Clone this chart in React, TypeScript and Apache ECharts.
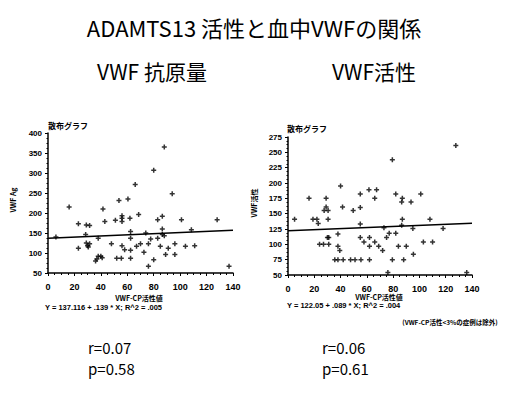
import React, { useEffect, useRef } from "react";
import * as echarts from "echarts";

const title = "ADAMTS13 活性と血中VWFの関係";
const leftTitle = "VWF 抗原量";
const rightTitle = "VWF活性";
const plotLabel = "散布グラフ";
const xName = "VWF-CP活性値";
const leftYName = "VWF Ag";
const rightYName = "VWF活性";
const leftEq = "Y = 137.116 + .139 * X; R^2 = .005";
const rightEq = "Y = 122.05 + .089 * X; R^2 = .004";
const footnote = "(VWF-CP活性<3%の症例は除外)";
const leftStats = ["r=0.07", "p=0.58"];
const rightStats = ["r=0.06", "p=0.61"];

const leftPoints: number[][] = [
  [6, 140], [16, 215], [23, 173], [23, 112], [28.5, 146], [29, 170], [31.5, 169], [29, 125],
  [30, 118], [31.5, 123], [30.5, 115], [36, 80], [37, 85], [38, 92], [40, 92], [41, 88],
  [38, 137], [41.6, 210], [43, 179], [48, 123], [51, 182], [52, 87], [53.7, 231], [55.5, 87],
  [56, 193], [56, 187], [56, 179], [56, 118], [58, 108], [60.5, 235], [62, 187], [62.5, 154],
  [62.5, 137], [62.5, 107], [62.5, 87], [66, 271], [67, 117], [68.6, 196], [70, 123],
  [72.6, 102], [74, 150], [76, 123], [76, 67], [77.7, 135], [80, 307], [80, 83], [83, 183],
  [83, 137], [85, 117], [86.5, 192], [86.5, 160], [86.5, 146], [88, 143], [88, 365], [89, 96],
  [91, 112], [94, 248], [96, 123], [96, 96], [101, 183], [104, 117], [108.5, 158], [111, 118],
  [128, 183], [137, 67],
];

const rightPoints: number[][] = [
  [5, 141], [16, 175], [19, 141], [22, 141], [23, 134], [24, 100], [27, 100], [31, 100],
  [27.5, 155], [29, 161], [29, 175], [30.5, 155], [30, 111], [31, 111], [30.5, 141],
  [35.6, 75], [38, 75], [38, 117], [38, 97], [39.4, 90], [40, 195], [41.5, 161], [42, 75],
  [47.6, 75], [49.6, 155], [51, 75], [55, 182], [55, 160], [55, 133], [55, 111], [55.5, 75],
  [57.8, 104], [61.6, 189], [62, 111], [62, 97], [62, 75], [66, 175], [66, 104], [67.4, 189],
  [69, 97], [72, 90], [73, 127], [75, 111], [76, 54], [77, 118], [79.4, 238], [79.4, 75],
  [82, 182], [82, 118], [84, 97], [86.5, 169], [87, 175], [87, 141], [86.5, 131], [88, 75],
  [90, 97], [93.6, 169], [95, 126], [95.4, 84], [101, 182], [103, 104], [108, 141],
  [110, 104], [118, 126], [127.7, 261], [136, 54],
];

const leftFit: number[][] = [[0, 137.1], [140, 156.6]];
const rightFit: number[][] = [[0, 122.05], [140, 134.5]];

const xTicks = { min: 0, max: 140, interval: 20 };
const leftYTicks = { min: 50, max: 400, interval: 50 };
const rightYTicks = { min: 50, max: 275, interval: 25 };

const plus = "path://M3.5,0H6.5V3.5H10V6.5H6.5V10H3.5V6.5H0V3.5H3.5Z";
const axisFont = "Liberation Sans";
const jp = "Noto Sans CJK JP";

function xAxis(gridIndex: number) {
  return {
    type: "value",
    gridIndex,
    ...xTicks,
    axisLine: { show: true, onZero: false, lineStyle: { color: "#000", width: 1.5 } },
    axisTick: { show: true, length: 3, lineStyle: { color: "#000" } },
    minorTick: { show: true, splitNumber: 4, length: 2, lineStyle: { color: "#000" } },
    splitLine: { show: false },
    axisLabel: { color: "#000", fontSize: 9, fontWeight: "bold", fontFamily: axisFont, margin: 9 },
  };
}

function yAxis(gridIndex: number, t: any) {
  return {
    type: "value",
    gridIndex,
    ...t,
    axisLine: { show: true, onZero: false, lineStyle: { color: "#000", width: 1.5 } },
    axisTick: { show: true, length: 3, lineStyle: { color: "#000" } },
    minorTick: { show: true, splitNumber: 4, length: 1.5, lineStyle: { color: "#000" } },
    splitLine: { show: false },
    axisLabel: { color: "#000", fontSize: 8, fontWeight: "bold", fontFamily: axisFont, margin: 6 },
  };
}

function txt(text: string, x: number, y: number, fontSize: number, opts: any = {}) {
  return {
    type: "text",
    x,
    y,
    rotation: opts.rotation || 0,
    style: {
      text,
      fill: "#000",
      fontSize,
      fontFamily: opts.fontFamily || jp,
      fontWeight: opts.fontWeight || "normal",
      align: opts.align || "center",
      verticalAlign: "middle",
    },
  };
}

export default function App() {
  const ref = useRef<HTMLDivElement>(null);
  useEffect(() => {
    if (!ref.current) return;
    const chart = echarts.init(ref.current, undefined, { renderer: "svg" });
    chart.setOption({
      animation: false,
      backgroundColor: "#fff",
      grid: [
        { left: 48, top: 133, width: 185, height: 140 },
        { left: 288, top: 137, width: 184, height: 138 },
      ],
      xAxis: [xAxis(0), xAxis(1)],
      yAxis: [yAxis(0, leftYTicks), yAxis(1, rightYTicks)],
      series: [
        {
          type: "scatter", xAxisIndex: 0, yAxisIndex: 0, data: leftPoints,
          symbol: plus, symbolSize: 5, itemStyle: { color: "#000" },
        },
        {
          type: "line", xAxisIndex: 0, yAxisIndex: 0, data: leftFit, showSymbol: false,
          lineStyle: { color: "#000", width: 1.5 },
        },
        {
          type: "scatter", xAxisIndex: 1, yAxisIndex: 1, data: rightPoints,
          symbol: plus, symbolSize: 5, itemStyle: { color: "#000" },
        },
        {
          type: "line", xAxisIndex: 1, yAxisIndex: 1, data: rightFit, showSymbol: false,
          lineStyle: { color: "#000", width: 1.5 },
        },
      ],
      graphic: [
        txt(title, 254, 27, 22),
        txt(leftTitle, 152, 71, 21),
        txt(rightTitle, 374, 71, 21),
        txt(plotLabel, 48, 125, 8, { align: "left", fontWeight: "bold" }),
        txt(plotLabel, 287, 128, 8, { align: "left", fontWeight: "bold" }),
        txt(leftYName, 13, 200, 7, { rotation: Math.PI / 2, fontWeight: "bold" }),
        txt(rightYName, 254, 203, 7, { rotation: Math.PI / 2, fontWeight: "bold" }),
        txt(xName, 139, 298, 7, { fontWeight: "bold" }),
        txt(xName, 379, 297, 7, { fontWeight: "bold" }),
        txt(leftEq, 45, 307, 7.5, { align: "left", fontWeight: "bold", fontFamily: axisFont }),
        txt(rightEq, 287, 305, 7.5, { align: "left", fontWeight: "bold", fontFamily: axisFont }),
        txt(footnote, 450, 322, 6.5, { fontWeight: "bold" }),
        txt(leftStats[0], 88, 347, 15, { align: "left" }),
        txt(leftStats[1], 88, 368, 15, { align: "left" }),
        txt(rightStats[0], 322, 347, 15, { align: "left" }),
        txt(rightStats[1], 322, 368, 15, { align: "left" }),
      ],
    });
    return () => chart.dispose();
  }, []);
  return (
    <div
      ref={ref}
      style={{ position: "fixed", left: 0, top: 0, width: 509, height: 401, background: "#fff" }}
    />
  );
}
